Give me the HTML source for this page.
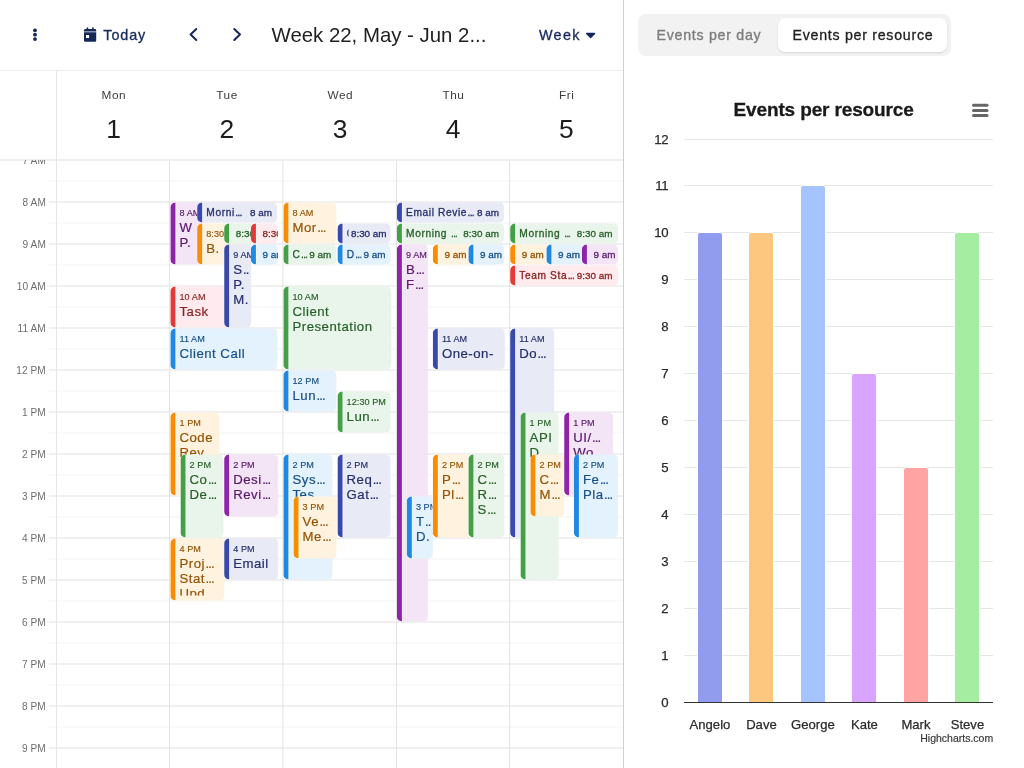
<!DOCTYPE html>
<html lang="en">
<head>
<meta charset="utf-8">
<title>Calendar - Events per resource</title>
<style>
*{box-sizing:border-box}
html,body{margin:0;padding:0;background:#fff}
body{width:1024px;height:768px;overflow:hidden;position:relative;font-family:"Liberation Sans", sans-serif;color:#212121}
.abs{position:absolute}
.cal{position:absolute;left:0;top:0;width:624px;height:768px;border-right:1px solid #d0d0d0;overflow:hidden;background:#fff}
.tb{position:absolute;left:0;top:0;width:623px;height:71px;border-bottom:1px solid #ebebeb}
.tb .t{position:absolute;white-space:nowrap;color:#17295d;font-size:14.4px;letter-spacing:.9px;line-height:20px;-webkit-text-stroke:.3px #17295d}
.title{position:absolute;white-space:nowrap;color:#212121;font-size:20.4px;line-height:24px}
.dn{position:absolute;top:88px;width:113px;padding-left:.6px;text-align:center;font-size:11.8px;letter-spacing:.6px;line-height:14px;color:#3c3c3c}
.dd{position:absolute;top:115px;width:113px;text-align:center;font-size:26.4px;line-height:28px;color:#1c1c1c}
.tl{position:absolute;left:0;width:45.9px;text-align:right;font-size:10.1px;letter-spacing:.1px;line-height:12px;color:#6e6e6e;white-space:nowrap}
.ev{position:absolute;left:0;top:0;overflow:hidden;border-radius:5px 4.5px 4.5px 5px;white-space:nowrap}
.ev i{position:absolute;left:0;top:0;bottom:0;width:4.7px;box-shadow:1px 0 0 rgba(255,255,255,.5)}
.ev .tm{position:absolute;left:9.1px;font-size:9.1px;letter-spacing:.05px;line-height:10px;font-style:normal;-webkit-text-stroke:.15px}
.ev .nm{position:absolute;left:9.1px;font-size:13.2px;letter-spacing:.5px;line-height:15px;-webkit-text-stroke:.2px}
.ev .sn{position:absolute;left:9.2px;font-size:10.2px;letter-spacing:.6px;line-height:12px;-webkit-text-stroke:.3px;overflow:hidden}
.ev .st{position:absolute;font-size:9.9px;line-height:12px;-webkit-text-stroke:.3px}
.e{letter-spacing:-.07em;margin-left:.5px}
.clip{position:absolute;left:0;top:0;right:0;overflow:hidden}
.side{position:absolute;left:624px;top:0;width:400px;height:768px;background:#fff}
.tabs{position:absolute;left:14px;top:14px;width:313px;height:42px;border-radius:8px;background:#f2f2f2}
.tab{position:absolute;white-space:nowrap;font-size:14.2px;letter-spacing:.73px;line-height:20px;-webkit-text-stroke:.32px}
.tabon{position:absolute;left:154px;top:18px;width:168.5px;height:34px;border-radius:7px;background:#fff;box-shadow:0 1px 2px rgba(0,0,0,.12)}
</style>
</head>
<body>

<div class="cal">
<svg class="abs" style="left:0;top:0" width="623" height="768" viewBox="0 0 623 768">
<rect x="49" y="180.4" width="574" height="1.2" fill="#f5f5f5"/>
<rect x="49" y="201.4" width="574" height="1.2" fill="#e6e6e6"/>
<rect x="49" y="222.4" width="574" height="1.2" fill="#f5f5f5"/>
<rect x="49" y="243.4" width="574" height="1.2" fill="#e6e6e6"/>
<rect x="49" y="264.4" width="574" height="1.2" fill="#f5f5f5"/>
<rect x="49" y="285.4" width="574" height="1.2" fill="#e6e6e6"/>
<rect x="49" y="306.4" width="574" height="1.2" fill="#f5f5f5"/>
<rect x="49" y="327.4" width="574" height="1.2" fill="#e6e6e6"/>
<rect x="49" y="348.4" width="574" height="1.2" fill="#f5f5f5"/>
<rect x="49" y="369.4" width="574" height="1.2" fill="#e6e6e6"/>
<rect x="49" y="390.4" width="574" height="1.2" fill="#f5f5f5"/>
<rect x="49" y="411.4" width="574" height="1.2" fill="#e6e6e6"/>
<rect x="49" y="432.4" width="574" height="1.2" fill="#f5f5f5"/>
<rect x="49" y="453.4" width="574" height="1.2" fill="#e6e6e6"/>
<rect x="49" y="474.4" width="574" height="1.2" fill="#f5f5f5"/>
<rect x="49" y="495.4" width="574" height="1.2" fill="#e6e6e6"/>
<rect x="49" y="516.4" width="574" height="1.2" fill="#f5f5f5"/>
<rect x="49" y="537.4" width="574" height="1.2" fill="#e6e6e6"/>
<rect x="49" y="558.4" width="574" height="1.2" fill="#f5f5f5"/>
<rect x="49" y="579.4" width="574" height="1.2" fill="#e6e6e6"/>
<rect x="49" y="600.4" width="574" height="1.2" fill="#f5f5f5"/>
<rect x="49" y="621.4" width="574" height="1.2" fill="#e6e6e6"/>
<rect x="49" y="642.4" width="574" height="1.2" fill="#f5f5f5"/>
<rect x="49" y="663.4" width="574" height="1.2" fill="#e6e6e6"/>
<rect x="49" y="684.4" width="574" height="1.2" fill="#f5f5f5"/>
<rect x="49" y="705.4" width="574" height="1.2" fill="#e6e6e6"/>
<rect x="49" y="726.4" width="574" height="1.2" fill="#f5f5f5"/>
<rect x="49" y="747.4" width="574" height="1.2" fill="#e6e6e6"/>
<rect x="169.1" y="160" width="1" height="608" fill="#e3e3e3"/>
<rect x="282.4" y="160" width="1" height="608" fill="#e3e3e3"/>
<rect x="396" y="160" width="1" height="608" fill="#e3e3e3"/>
<rect x="509.1" y="160" width="1" height="608" fill="#e3e3e3"/>
<rect x="56" y="71" width="1" height="697" fill="#e6e6e6"/>
</svg>
<div class="tl" style="top:196.6px">8 AM</div>
<div class="tl" style="top:238.6px">9 AM</div>
<div class="tl" style="top:280.6px">10 AM</div>
<div class="tl" style="top:322.6px">11 AM</div>
<div class="tl" style="top:364.6px">12 PM</div>
<div class="tl" style="top:406.6px">1 PM</div>
<div class="tl" style="top:448.6px">2 PM</div>
<div class="tl" style="top:490.6px">3 PM</div>
<div class="tl" style="top:532.6px">4 PM</div>
<div class="tl" style="top:574.6px">5 PM</div>
<div class="tl" style="top:616.6px">6 PM</div>
<div class="tl" style="top:658.6px">7 PM</div>
<div class="tl" style="top:700.6px">8 PM</div>
<div class="tl" style="top:742.6px">9 PM</div>
<div class="ev" style="transform:translate(170.4px,202.45px);width:32.5px;height:62px;background:#f3e5f5;color:#58186b"><i style="background:#8e24aa"></i><div class="clip" style="height:57.2px"><span class="tm" style="top:6.25px">8 AM</span><span class="nm" style="top:17.73px">W</span><span class="nm" style="top:32.73px">P.</span></div></div>
<div class="ev" style="transform:translate(170.4px,286.45px);width:59.5px;height:41px;background:#ffebee;color:#8b2220"><i style="background:#e53935"></i><div class="clip" style="height:36.2px"><span class="tm" style="top:6.25px">10 AM</span><span class="nm" style="top:17.73px">Task</span></div></div>
<div class="ev" style="transform:translate(170.4px,328.45px);width:107px;height:41px;background:#e3f2fd;color:#174f89"><i style="background:#1e88e5"></i><div class="clip" style="height:36.2px"><span class="tm" style="top:6.25px">11 AM</span><span class="nm" style="top:17.73px">Client Call</span></div></div>
<div class="ev" style="transform:translate(170.4px,412.45px);width:48.5px;height:83px;background:#fff3e0;color:#955204"><i style="background:#fb8c00"></i><div class="clip" style="height:78.2px"><span class="tm" style="top:6.25px">1 PM</span><span class="nm" style="top:17.73px">Code</span><span class="nm" style="top:32.73px">Rev<span class="e">...</span></span></div></div>
<div class="ev" style="transform:translate(170.4px,538.45px);width:53.5px;height:62px;background:#fff3e0;color:#955204"><i style="background:#fb8c00"></i><div class="clip" style="height:57.2px"><span class="tm" style="top:6.25px">4 PM</span><span class="nm" style="top:17.73px">Proj<span class="e">...</span></span><span class="nm" style="top:32.73px">Stat<span class="e">...</span></span><span class="nm" style="top:47.73px">Upd<span class="e">...</span></span></div></div>
<div class="ev" style="transform:translate(180.5px,454.45px);width:43.4px;height:83px;background:#e9f4ea;color:#255f28"><i style="background:#43a047"></i><div class="clip" style="height:78.2px"><span class="tm" style="top:6.25px">2 PM</span><span class="nm" style="top:17.73px">Co<span class="e">...</span></span><span class="nm" style="top:32.73px">De<span class="e">...</span></span></div></div>
<div class="ev" style="transform:translate(197.15px,202.45px);width:80.25px;height:20px;background:#e8eaf6;color:#242e6b"><i style="background:#3949ab"></i><span class="sn" style="top:4.77px">Morni<span class="e">...</span></span><span class="st" style="top:4.77px;right:5.4px">8 am</span></div>
<div class="ev" style="transform:translate(197.15px,223.45px);width:32.75px;height:41px;background:#fff3e0;color:#955204"><i style="background:#fb8c00"></i><div class="clip" style="height:36.2px"><span class="tm" style="top:6.25px">8:30 AM</span><span class="nm" style="top:17.73px">B.</span></div></div>
<div class="ev" style="transform:translate(224.15px,223.45px);width:32.75px;height:20px;background:#e9f4ea;color:#255f28"><i style="background:#43a047"></i><span class="st" style="top:4.77px;left:11.6px">8:30 am</span></div>
<div class="ev" style="transform:translate(224.15px,244.45px);width:26.75px;height:83px;background:#e8eaf6;color:#242e6b"><i style="background:#3949ab"></i><div class="clip" style="height:78.2px"><span class="tm" style="top:6.25px">9 AM</span><span class="nm" style="top:17.73px">S<span class="e">..</span></span><span class="nm" style="top:32.73px">P.</span><span class="nm" style="top:47.73px">M.</span></div></div>
<div class="ev" style="transform:translate(224.15px,454.45px);width:53.5px;height:62px;background:#f3e5f5;color:#58186b"><i style="background:#8e24aa"></i><div class="clip" style="height:57.2px"><span class="tm" style="top:6.25px">2 PM</span><span class="nm" style="top:17.73px">Desi<span class="e">...</span></span><span class="nm" style="top:32.73px">Revi<span class="e">...</span></span></div></div>
<div class="ev" style="transform:translate(224.15px,538.45px);width:53.5px;height:41px;background:#e8eaf6;color:#242e6b"><i style="background:#3949ab"></i><div class="clip" style="height:36.2px"><span class="tm" style="top:6.25px">4 PM</span><span class="nm" style="top:17.73px">Email</span></div></div>
<div class="ev" style="transform:translate(250.9px,223.45px);width:26.5px;height:20px;background:#ffebee;color:#8b2220"><i style="background:#e53935"></i><span class="st" style="top:4.77px;left:11.6px">8:30 am</span></div>
<div class="ev" style="transform:translate(250.9px,244.45px);width:26.5px;height:20px;background:#e3f2fd;color:#174f89"><i style="background:#1e88e5"></i><span class="st" style="top:4.77px;left:11.6px">9 am</span></div>
<div class="ev" style="transform:translate(283.4px,202.45px);width:53.25px;height:41px;background:#fff3e0;color:#955204"><i style="background:#fb8c00"></i><div class="clip" style="height:36.2px"><span class="tm" style="top:6.25px">8 AM</span><span class="nm" style="top:17.73px">Mor<span class="e">...</span></span></div></div>
<div class="ev" style="transform:translate(283.4px,244.45px);width:53.25px;height:20px;background:#e9f4ea;color:#255f28"><i style="background:#43a047"></i><span class="sn" style="top:4.77px">C<span class="e">...</span></span><span class="st" style="top:4.77px;right:5.4px">9 am</span></div>
<div class="ev" style="transform:translate(283.4px,286.45px);width:107.5px;height:83px;background:#e9f4ea;color:#255f28"><i style="background:#43a047"></i><div class="clip" style="height:78.2px"><span class="tm" style="top:6.25px">10 AM</span><span class="nm" style="top:17.73px">Client</span><span class="nm" style="top:32.73px">Presentation</span></div></div>
<div class="ev" style="transform:translate(283.4px,370.45px);width:53.25px;height:41px;background:#e3f2fd;color:#174f89"><i style="background:#1e88e5"></i><div class="clip" style="height:36.2px"><span class="tm" style="top:6.25px">12 PM</span><span class="nm" style="top:17.73px">Lun<span class="e">...</span></span></div></div>
<div class="ev" style="transform:translate(283.4px,454.45px);width:48.5px;height:125px;background:#e3f2fd;color:#174f89"><i style="background:#1e88e5"></i><div class="clip" style="height:120.2px"><span class="tm" style="top:6.25px">2 PM</span><span class="nm" style="top:17.73px">Sys<span class="e">...</span></span><span class="nm" style="top:32.73px">Tes<span class="e">...</span></span></div></div>
<div class="ev" style="transform:translate(293.5px,496.45px);width:43.4px;height:62px;background:#fff3e0;color:#955204"><i style="background:#fb8c00"></i><div class="clip" style="height:57.2px"><span class="tm" style="top:6.25px">3 PM</span><span class="nm" style="top:17.73px">Ve<span class="e">...</span></span><span class="nm" style="top:32.73px">Me<span class="e">...</span></span></div></div>
<div class="ev" style="transform:translate(337.5px,223.45px);width:53.4px;height:20px;background:#e8eaf6;color:#242e6b"><i style="background:#3949ab"></i><span class="sn" style="top:4.77px;width:2px">C</span><span class="st" style="top:4.77px;left:13.4px">8:30 am</span></div>
<div class="ev" style="transform:translate(337.5px,244.45px);width:53.4px;height:20px;background:#e3f2fd;color:#174f89"><i style="background:#1e88e5"></i><span class="sn" style="top:4.77px">D<span class="e">...</span></span><span class="st" style="top:4.77px;right:5.4px">9 am</span></div>
<div class="ev" style="transform:translate(337.5px,391.45px);width:53.4px;height:41px;background:#e9f4ea;color:#255f28"><i style="background:#43a047"></i><div class="clip" style="height:36.2px"><span class="tm" style="top:6.25px">12:30 PM</span><span class="nm" style="top:17.73px">Lun<span class="e">...</span></span></div></div>
<div class="ev" style="transform:translate(337.5px,454.45px);width:53.4px;height:83px;background:#e8eaf6;color:#242e6b"><i style="background:#3949ab"></i><div class="clip" style="height:78.2px"><span class="tm" style="top:6.25px">2 PM</span><span class="nm" style="top:17.73px">Req<span class="e">...</span></span><span class="nm" style="top:32.73px">Gat<span class="e">...</span></span></div></div>
<div class="ev" style="transform:translate(396.9px,202.45px);width:107.4px;height:20px;background:#e8eaf6;color:#242e6b"><i style="background:#3949ab"></i><span class="sn" style="top:4.77px">Email Revie<span class="e">...</span></span><span class="st" style="top:4.77px;right:5.4px">8 am</span></div>
<div class="ev" style="transform:translate(396.9px,223.45px);width:107.4px;height:20px;background:#e9f4ea;color:#255f28"><i style="background:#43a047"></i><span class="sn" style="top:4.77px">Morning <span class="e">...</span></span><span class="st" style="top:4.77px;right:5.4px">8:30 am</span></div>
<div class="ev" style="transform:translate(396.9px,244.45px);width:31px;height:377px;background:#f3e5f5;color:#58186b"><i style="background:#8e24aa"></i><div class="clip" style="height:372.2px"><span class="tm" style="top:6.25px">9 AM</span><span class="nm" style="top:17.73px">B<span class="e">...</span></span><span class="nm" style="top:32.73px">F<span class="e">...</span></span></div></div>
<div class="ev" style="transform:translate(406.8px,496.45px);width:26.4px;height:62px;background:#e3f2fd;color:#174f89"><i style="background:#1e88e5"></i><div class="clip" style="height:57.2px"><span class="tm" style="top:6.25px">3 PM</span><span class="nm" style="top:17.73px">T<span class="e">..</span></span><span class="nm" style="top:32.73px">D.</span></div></div>
<div class="ev" style="transform:translate(432.8px,244.45px);width:41.1px;height:20px;background:#fff3e0;color:#955204"><i style="background:#fb8c00"></i><span class="st" style="top:4.77px;left:11.7px">9 am</span></div>
<div class="ev" style="transform:translate(432.8px,328.45px);width:71.5px;height:41px;background:#e8eaf6;color:#242e6b"><i style="background:#3949ab"></i><div class="clip" style="height:36.2px"><span class="tm" style="top:6.25px">11 AM</span><span class="nm" style="top:17.73px">One-on-</span></div></div>
<div class="ev" style="transform:translate(432.8px,454.45px);width:41.1px;height:83px;background:#fff3e0;color:#955204"><i style="background:#fb8c00"></i><div class="clip" style="height:78.2px"><span class="tm" style="top:6.25px">2 PM</span><span class="nm" style="top:17.73px">P<span class="e">...</span></span><span class="nm" style="top:32.73px">Pl<span class="e">...</span></span></div></div>
<div class="ev" style="transform:translate(468.4px,244.45px);width:35.9px;height:20px;background:#e3f2fd;color:#174f89"><i style="background:#1e88e5"></i><span class="st" style="top:4.77px;left:11.7px">9 am</span></div>
<div class="ev" style="transform:translate(468.4px,454.45px);width:35.9px;height:83px;background:#e9f4ea;color:#255f28"><i style="background:#43a047"></i><div class="clip" style="height:78.2px"><span class="tm" style="top:6.25px">2 PM</span><span class="nm" style="top:17.73px">C<span class="e">...</span></span><span class="nm" style="top:32.73px">R<span class="e">...</span></span><span class="nm" style="top:47.73px">S<span class="e">...</span></span></div></div>
<div class="ev" style="transform:translate(510.15px,223.45px);width:107.75px;height:20px;background:#e9f4ea;color:#255f28"><i style="background:#43a047"></i><span class="sn" style="top:4.77px">Morning <span class="e">...</span></span><span class="st" style="top:4.77px;right:5.4px">8:30 am</span></div>
<div class="ev" style="transform:translate(510.15px,244.45px);width:41.75px;height:20px;background:#fff3e0;color:#955204"><i style="background:#fb8c00"></i><span class="st" style="top:4.77px;left:11.7px">9 am</span></div>
<div class="ev" style="transform:translate(510.15px,265.45px);width:107.75px;height:20px;background:#ffebee;color:#8b2220"><i style="background:#e53935"></i><span class="sn" style="top:4.77px">Team Sta<span class="e">...</span></span><span class="st" style="top:4.77px;right:5.4px">9:30 am</span></div>
<div class="ev" style="transform:translate(510.15px,328.45px);width:44.35px;height:209px;background:#e8eaf6;color:#242e6b"><i style="background:#3949ab"></i><div class="clip" style="height:204.2px"><span class="tm" style="top:6.25px">11 AM</span><span class="nm" style="top:17.73px">Do<span class="e">...</span></span></div></div>
<div class="ev" style="transform:translate(520.5px,412.45px);width:38.4px;height:167px;background:#e9f4ea;color:#255f28"><i style="background:#43a047"></i><div class="clip" style="height:162.2px"><span class="tm" style="top:6.25px">1 PM</span><span class="nm" style="top:17.73px">API</span><span class="nm" style="top:32.73px">D<span class="e">...</span></span></div></div>
<div class="ev" style="transform:translate(530.4px,454.45px);width:33.5px;height:62px;background:#fff3e0;color:#955204"><i style="background:#fb8c00"></i><div class="clip" style="height:57.2px"><span class="tm" style="top:6.25px">2 PM</span><span class="nm" style="top:17.73px">C<span class="e">...</span></span><span class="nm" style="top:32.73px">M<span class="e">...</span></span></div></div>
<div class="ev" style="transform:translate(546.4px,244.45px);width:41.5px;height:20px;background:#e3f2fd;color:#174f89"><i style="background:#1e88e5"></i><span class="st" style="top:4.77px;left:11.7px">9 am</span></div>
<div class="ev" style="transform:translate(564.15px,412.45px);width:48.5px;height:83px;background:#f3e5f5;color:#58186b"><i style="background:#8e24aa"></i><div class="clip" style="height:78.2px"><span class="tm" style="top:6.25px">1 PM</span><span class="nm" style="top:17.73px">UI/<span class="e">...</span></span><span class="nm" style="top:32.73px">Wo<span class="e">...</span></span></div></div>
<div class="ev" style="transform:translate(573.9px,454.45px);width:44px;height:83px;background:#e3f2fd;color:#174f89"><i style="background:#1e88e5"></i><div class="clip" style="height:78.2px"><span class="tm" style="top:6.25px">2 PM</span><span class="nm" style="top:17.73px">Fe<span class="e">...</span></span><span class="nm" style="top:32.73px">Pla<span class="e">...</span></span></div></div>
<div class="ev" style="transform:translate(581.9px,244.45px);width:36px;height:20px;background:#f3e5f5;color:#58186b"><i style="background:#8e24aa"></i><span class="st" style="top:4.77px;left:11.7px">9 am</span></div>
<div class="abs" style="left:0;top:71px;width:623px;height:88px;background:#fff"></div>
<div class="abs" style="left:0;top:159px;width:623px;height:2px;background:#efefef"></div>
<div class="abs" style="left:56px;top:71px;width:1px;height:90px;background:#e6e6e6"></div>
<div class="abs" style="left:0;top:160px;width:49px;height:10px;overflow:hidden"><div class="tl" style="top:-5.4px">7 AM</div></div>
<div class="dn" style="left:57.1px;top:88.21px">Mon</div>
<div class="dd" style="left:57.1px;top:114.85px">1</div>
<div class="dn" style="left:170.3px;top:88.21px">Tue</div>
<div class="dd" style="left:170.3px;top:114.85px">2</div>
<div class="dn" style="left:283.5px;top:88.21px">Wed</div>
<div class="dd" style="left:283.5px;top:114.85px">3</div>
<div class="dn" style="left:396.7px;top:88.21px">Thu</div>
<div class="dd" style="left:396.7px;top:114.85px">4</div>
<div class="dn" style="left:509.9px;top:88.21px">Fri</div>
<div class="dd" style="left:509.9px;top:114.85px">5</div>
<div class="tb">
<svg class="abs" style="left:0;top:0" width="623" height="70" viewBox="0 0 623 70">
<g fill="#14275b">
<circle cx="35" cy="30.3" r="1.9"/><circle cx="35" cy="34.7" r="1.9"/><circle cx="35" cy="39.1" r="1.9"/>
<path fill-rule="evenodd" d="M86.6 27.4h1.6v1.7h3.9v-1.7h1.6v1.7h1.2a1.3 1.3 0 0 1 1.3 1.3v1.2H84v-1.2a1.3 1.3 0 0 1 1.3-1.3h1.3zM84 32.2h12.2v8.2a1.3 1.3 0 0 1-1.3 1.3H85.3a1.3 1.3 0 0 1-1.3-1.3zM86 35v3h3.1v-3z"/>
<path d="M586.6 32.8h8a.7.7 0 0 1 .5 1.2l-4 3.9a.7.7 0 0 1-1 0l-4-3.9a.7.7 0 0 1 .5-1.2z"/>
</g>
<g fill="none" stroke="#14275b" stroke-width="2" stroke-linecap="round" stroke-linejoin="round">
<path d="M196.3 29 190.6 34.5 196.3 40"/><path d="M234.3 29 240 34.5 234.3 40"/>
</g></svg>
<span class="t" style="left:103.3px;top:24.81px">Today</span>
<span class="title" style="left:271.5px;top:23.43px">Week 22, May - Jun 2...</span>
<span class="t" style="left:539px;letter-spacing:1.3px;top:24.81px">Week</span>
</div>
</div>
<div class="side">
<div class="tabs"></div><div class="tabon"></div>
<span class="tab" style="left:32.5px;top:24.68px;color:#7c7c7c">Events per day</span>
<span class="tab" style="left:168.5px;top:24.68px;color:#1f1f1f">Events per resource</span>
<svg class="abs" style="left:0;top:70px" width="400" height="698" viewBox="624 70 400 698" font-family="Liberation Sans, sans-serif">
<rect x="684" y="655" width="309" height="1" fill="#e6e6e6"/>
<rect x="684" y="608" width="309" height="1" fill="#e6e6e6"/>
<rect x="684" y="561" width="309" height="1" fill="#e6e6e6"/>
<rect x="684" y="514" width="309" height="1" fill="#e6e6e6"/>
<rect x="684" y="467" width="309" height="1" fill="#e6e6e6"/>
<rect x="684" y="420" width="309" height="1" fill="#e6e6e6"/>
<rect x="684" y="373" width="309" height="1" fill="#e6e6e6"/>
<rect x="684" y="326" width="309" height="1" fill="#e6e6e6"/>
<rect x="684" y="279" width="309" height="1" fill="#e6e6e6"/>
<rect x="684" y="232" width="309" height="1" fill="#e6e6e6"/>
<rect x="684" y="185" width="309" height="1" fill="#e6e6e6"/>
<rect x="684" y="139" width="309" height="1" fill="#e6e6e6"/>
<path d="M697.5 703V235a2.5 2.5 0 0 1 2.5-2.5h20a2.5 2.5 0 0 1 2.5 2.5V703z" fill="#919cee" stroke="#fff" stroke-width="1"/>
<path d="M748.5 703V235a2.5 2.5 0 0 1 2.5-2.5h20a2.5 2.5 0 0 1 2.5 2.5V703z" fill="#fec77f" stroke="#fff" stroke-width="1"/>
<path d="M800.5 703V188a2.5 2.5 0 0 1 2.5-2.5h20a2.5 2.5 0 0 1 2.5 2.5V703z" fill="#a4c3ff" stroke="#fff" stroke-width="1"/>
<path d="M851.5 703V376a2.5 2.5 0 0 1 2.5-2.5h20a2.5 2.5 0 0 1 2.5 2.5V703z" fill="#d9a4ff" stroke="#fff" stroke-width="1"/>
<path d="M903.5 703V470a2.5 2.5 0 0 1 2.5-2.5h20a2.5 2.5 0 0 1 2.5 2.5V703z" fill="#ffa3a3" stroke="#fff" stroke-width="1"/>
<path d="M954.5 703V235a2.5 2.5 0 0 1 2.5-2.5h20a2.5 2.5 0 0 1 2.5 2.5V703z" fill="#a4eda1" stroke="#fff" stroke-width="1"/>
<rect x="684" y="702" width="309" height="1" fill="#333"/>
<g font-size="13.2" letter-spacing="-.3" fill="#2b2b2b" stroke="#2b2b2b" stroke-width=".25" text-anchor="end">
<text x="668.4" y="706.9">0</text>
<text x="668.4" y="659.9">1</text>
<text x="668.4" y="612.9">2</text>
<text x="668.4" y="565.9">3</text>
<text x="668.4" y="518.9">4</text>
<text x="668.4" y="471.9">5</text>
<text x="668.4" y="424.9">6</text>
<text x="668.4" y="377.9">7</text>
<text x="668.4" y="330.9">8</text>
<text x="668.4" y="283.9">9</text>
<text x="668.4" y="236.9">10</text>
<text x="668.4" y="189.9">11</text>
<text x="668.4" y="143.9">12</text>
</g>
<g font-size="13.1" fill="#2b2b2b" stroke="#2b2b2b" stroke-width=".25" text-anchor="middle">
<text x="709.95" y="728.9">Angelo</text>
<text x="761.45" y="728.9">Dave</text>
<text x="812.95" y="728.9">George</text>
<text x="864.45" y="728.9">Kate</text>
<text x="915.95" y="728.9">Mark</text>
<text x="967.45" y="728.9">Steve</text>
</g>
<text x="993.2" y="742" text-anchor="end" font-size="10.5" fill="#3a3a3a" stroke="#3a3a3a" stroke-width=".2">Highcharts.com</text>
<text x="823.6" y="115.6" text-anchor="middle" font-size="19" letter-spacing="-.14" font-weight="bold" fill="#1a1a1a" stroke="#1a1a1a" stroke-width=".3">Events per resource</text>
<g stroke="#666" stroke-width="3" stroke-linecap="round"><path d="M973.5 105.3H987"/><path d="M973.5 110.4H987"/><path d="M973.5 115.5H987"/></g>
</svg>
</div>
</body>
</html>
